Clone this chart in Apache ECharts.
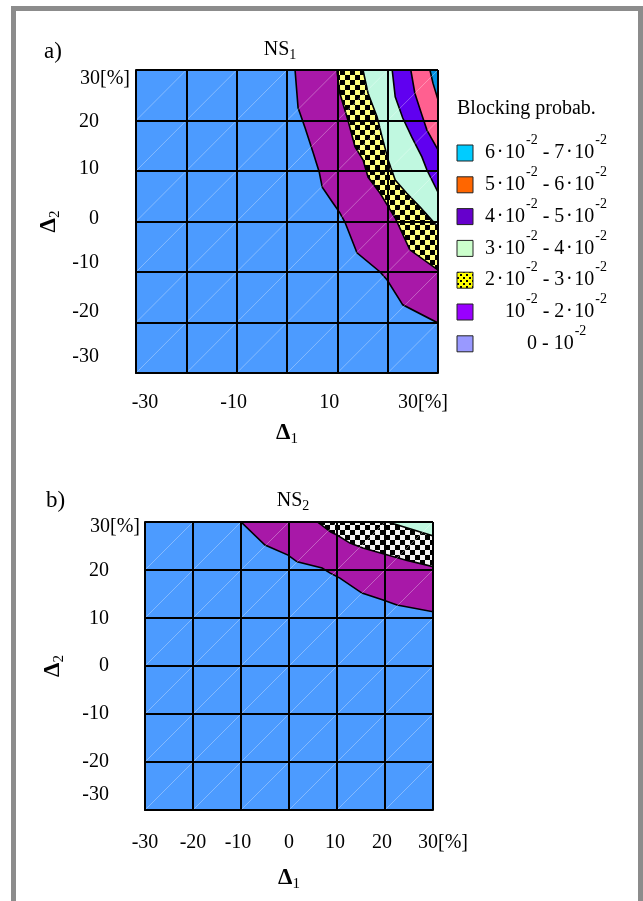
<!DOCTYPE html>
<html><head><meta charset="utf-8">
<script src="https://cdn.jsdelivr.net/npm/echarts@6/dist/echarts.min.js"></script>
<style>html,body{margin:0;padding:0;background:#fff}#c{width:643px;height:901px}</style>
</head><body><div id="c"></div>
<script>
// ---------------- data ----------------
const axisTicks = [-30, -20, -10, 0, 10, 20, 30];
const xTickValsA = [-30, -10, 10, 30];
const xTickLabelsA = ['-30', '-10', '10', '30[%]'];
const yTickLabelsA = ['-30', '-20', '-10', '0', '10', '20', '30[%]'];
const xTickLabelsB = ['-30', '-20', '-10', '0', '10', '20', '30[%]'];
const yTickLabelsB = ['-30', '-20', '-10', '0', '10', '20', '30[%]'];

// NS1 contour edges (Δ1, Δ2) — each edge bounds the region toward the upper-right corner
const ns1Edge1 = [[1.6,30],[2.2,22.5],[3.6,18.5],[5.2,13.6],[6.4,9.8],[7.0,6.8],[9.1,3.7],[10.5,1.7],[11.5,-0.1],[13.9,-6.2],[18.5,-10],[19.9,-11.6],[23.0,-16.5],[30,-20.1]];
const ns1Edge2 = [[9.9,30],[10.5,25.4],[12.1,20.1],[13.5,14.8],[15.1,12.2],[16.1,8.8],[18.5,5.6],[20.5,2.3],[21.5,0.7],[24.4,-5.6],[30,-9.6]];
const ns1Edge3 = [[15.1,30],[16.1,25.4],[17.9,20.7],[18.9,16.7],[20.1,12.2],[21.5,8.2],[23.8,5.6],[26.4,2.9],[30,-1.1]];
const ns1Edge4 = [[20.9,30],[21.5,24.7],[23.0,20.5],[24.8,16.7],[26.8,12.8],[27.8,10.2],[30,5.8]];
const ns1Edge5 = [[24.6,30],[25.4,25.4],[26.8,21.1],[27.8,18.1],[30,14.2]];
const ns1Edge6 = [[28.4,30],[29.0,27.4],[30,24.1]];

// NS2 contour edges
const ns2Edge1 = [[-10,30],[-5.0,25.2],[-0.2,23.1],[1.7,21.7],[6.9,20.4],[8.5,19.4],[10.6,18.3],[15.2,15.2],[19.6,13.75],[22.5,12.7],[30,11.3]];
const ns2Edge2 = [[6.0,30],[8.7,27.9],[10.0,27.3],[12.7,25.6],[15.4,24.6],[20.0,23.3],[24.6,22.0],[30,20.7]];
const ns2Edge3 = [[20.6,30],[30,27.1]];

const legendTitle = 'Blocking probab.';
const legendLabels = [
  '6\u200a·\u200a10{s|-2} - 7\u200a·\u200a10{s|-2}',
  '5\u200a·\u200a10{s|-2} - 6\u200a·\u200a10{s|-2}',
  '4\u200a·\u200a10{s|-2} - 5\u200a·\u200a10{s|-2}',
  '3\u200a·\u200a10{s|-2} - 4\u200a·\u200a10{s|-2}',
  '2\u200a·\u200a10{s|-2} - 3\u200a·\u200a10{s|-2}',
  '10{s|-2} - 2\u200a·\u200a10{s|-2}',
  '0 - 10{s|-2}'
];

// ---------------- styling ----------------
const FONT = "'Liberation Serif','Times New Roman',serif";
const legendColors = ['#00ccff', '#ff6600', '#6600cc', '#ccffcc', 'CHECK', '#9900ff', '#9999ff'];
const legendIndent = [0, 0, 0, 0, 0, 20, 42];

function checker(size, c1, c2) {
  const cv = document.createElement('canvas');
  cv.width = size * 2; cv.height = size * 2;
  const g = cv.getContext('2d');
  g.fillStyle = c1; g.fillRect(0, 0, size * 2, size * 2);
  g.fillStyle = c2; g.fillRect(0, 0, size, size); g.fillRect(size, size, size, size);
  return { image: cv, repeat: 'repeat' };
}
function dots() {
  const cv = document.createElement('canvas');
  cv.width = 6; cv.height = 6;
  const g = cv.getContext('2d');
  g.fillStyle = '#ffff00'; g.fillRect(0, 0, 6, 6);
  g.fillStyle = '#000'; g.fillRect(1, 1, 2, 2); g.fillRect(4, 4, 2, 2);
  return { image: cv, repeat: 'repeat' };
}
const checkYellow = checker(5, '#ffff80', '#000000');
const checkWhite = checker(5, '#f4f4f4', '#000000');

function bandSeries(edge, fill, idx, z) {
  return {
    type: 'custom', xAxisIndex: idx, yAxisIndex: idx, z: z, silent: true, clip: true,
    data: [[0, 0]],
    renderItem: function (params, api) {
      const pts = edge.concat([[30, 30]]).map(p => api.coord(p));
      return { type: 'polygon', shape: { points: pts }, style: { fill: fill, stroke: '#000', lineWidth: 1.6 } };
    }
  };
}
function diagSeries(idx) {
  const cells = [];
  for (let i = 0; i < axisTicks.length - 1; i++)
    for (let j = 0; j < axisTicks.length - 1; j++) cells.push([i, j]);
  return {
    type: 'custom', xAxisIndex: idx, yAxisIndex: idx, z: 9, silent: true,
    data: cells,
    renderItem: function (params, api) {
      const i = api.value(0), j = api.value(1);
      const p0 = api.coord([axisTicks[i], axisTicks[j]]);
      const p1 = api.coord([axisTicks[i + 1], axisTicks[j + 1]]);
      return { type: 'line', shape: { x1: p0[0], y1: p0[1], x2: p1[0], y2: p1[1] },
        style: { stroke: 'rgba(255,255,255,0.4)', lineWidth: 0.8 } };
    }
  };
}
function tok(extra) {
  return Object.assign({ fontFamily: FONT, fontSize: 20, color: '#000' }, extra);
}
function xRich(shifts) {
  const r = {};
  shifts.forEach((dx, i) => {
    r['l' + i] = tok({ padding: [0, dx < 0 ? -2 * dx : 0, 0, dx > 0 ? 2 * dx : 0] });
  });
  return r;
}
function yRich(shifts, padRight) {
  const r = {};
  shifts.forEach((dy, i) => {
    r['l' + i] = tok({ padding: [dy > 0 ? 2 * dy : 0, padRight[i], dy < 0 ? -2 * dy : 0, 0] });
  });
  return r;
}
const lineBlack = { color: '#000', width: 2 };

function baseAxis(idx) {
  return {
    gridIndex: idx, type: 'value', min: -30, max: 30, interval: 10, z: 10,
    axisLine: { show: true, onZero: false, lineStyle: lineBlack },
    axisTick: { show: false },
    splitLine: { show: true, lineStyle: lineBlack },
    axisLabel: { showMinLabel: true, showMaxLabel: true, hideOverlap: false }
  };
}
function deltaName(sub, gap, rotate) {
  return {
    name: '{d|Δ}{s|' + sub + '}', nameLocation: 'middle', nameGap: gap, nameRotate: rotate,
    nameTextStyle: { rich: {
      d: { fontFamily: FONT, fontWeight: 'bold', fontSize: 23, color: '#000' },
      s: { fontFamily: FONT, fontSize: 15, color: '#000', padding: [12, 0, 0, 0] }
    } }
  };
}

const xAxisA = Object.assign(baseAxis(0), deltaName('1', 47, 0));
xAxisA.axisLabel = Object.assign(xAxisA.axisLabel, {
  margin: 20, rich: xRich([9, -3, -8, -15]),
  formatter: v => { const i = xTickValsA.indexOf(Math.round(v)); return i < 0 ? '' : '{l' + i + '|' + xTickLabelsA[i] + '}'; }
});
const yAxisA = Object.assign(baseAxis(0), deltaName('2', 73, 90));
yAxisA.axisLabel = Object.assign(yAxisA.axisLabel, {
  margin: 6, rich: yRich([-16, -11, -9, -3, -2, 1, 9], [31, 31, 31, 31, 31, 31, 0]),
  formatter: v => { const i = axisTicks.indexOf(Math.round(v)); return i < 0 ? '' : '{l' + i + '|' + yTickLabelsA[i] + '}'; }
});
const xAxisB = Object.assign(baseAxis(1), deltaName('1', 55, 0));
xAxisB.axisLabel = Object.assign(xAxisB.axisLabel, {
  margin: 23, rich: xRich([0, 0, -3, 0, -2, -3, 10]),
  formatter: v => { const i = axisTicks.indexOf(Math.round(v)); return i < 0 ? '' : '{l' + i + '|' + xTickLabelsB[i] + '}'; }
});
const yAxisB = Object.assign(baseAxis(1), deltaName('2', 78, 90));
yAxisB.axisLabel = Object.assign(yAxisB.axisLabel, {
  margin: 5, rich: yRich([-15, 0, 0, 0, 1, 1, 5], [31, 31, 31, 31, 31, 31, 0]),
  formatter: v => { const i = axisTicks.indexOf(Math.round(v)); return i < 0 ? '' : '{l' + i + '|' + yTickLabelsB[i] + '}'; }
});

const graphics = [
  { type: 'rect', shape: { x: 11, y: 6, width: 5, height: 895 }, style: { fill: '#8c8c8c' } },
  { type: 'rect', shape: { x: 11, y: 6, width: 632, height: 5 }, style: { fill: '#8c8c8c' } },
  { type: 'rect', shape: { x: 638, y: 6, width: 5, height: 895 }, style: { fill: '#8c8c8c' } },
  { type: 'text', style: { text: 'a)', x: 44, y: 52, font: '23px ' + FONT, fill: '#000', align: 'left', textAlign: 'left', verticalAlign: 'middle', textVerticalAlign: 'middle' } },
  { type: 'text', style: { text: 'b)', x: 46, y: 501, font: '23px ' + FONT, fill: '#000', align: 'left', textAlign: 'left', verticalAlign: 'middle', textVerticalAlign: 'middle' } },
  { type: 'text', style: { text: '{n|NS}{s|1}', x: 280, y: 50, align: 'center', textAlign: 'center', verticalAlign: 'middle', textVerticalAlign: 'middle',
      rich: { n: tok({}), s: tok({ fontSize: 14, padding: [10, 0, 0, 0] }) } } },
  { type: 'text', style: { text: '{n|NS}{s|2}', x: 293, y: 501, align: 'center', textAlign: 'center', verticalAlign: 'middle', textVerticalAlign: 'middle',
      rich: { n: tok({}), s: tok({ fontSize: 14, padding: [10, 0, 0, 0] }) } } },
  { type: 'text', style: { text: legendTitle, x: 457, y: 109, font: '20px ' + FONT, fill: '#000', align: 'left', textAlign: 'left', verticalAlign: 'middle', textVerticalAlign: 'middle' } }
];
const legendY0 = 153, legendStep = 31.8;
legendLabels.forEach((lab, i) => {
  const cy = legendY0 + i * legendStep;
  graphics.push({ type: 'rect', shape: { x: 457, y: cy - 8, width: 16, height: 16 },
    style: { fill: legendColors[i] === 'CHECK' ? dots() : legendColors[i], stroke: '#222', lineWidth: 1 } });
  graphics.push({ type: 'text', style: { text: lab, x: 485 + legendIndent[i], y: cy, align: 'left', textAlign: 'left', verticalAlign: 'middle', textVerticalAlign: 'middle',
    font: '20px ' + FONT, fill: '#000',
    rich: { s: tok({ fontSize: 14, padding: [0, 0, 25, 1] }) } } });
});

const chart = echarts.init(document.getElementById('c'), null, { renderer: 'canvas' });
chart.setOption({
  animation: false,
  backgroundColor: '#ffffff',
  grid: [
    { left: 136, top: 70, width: 302, height: 303, show: true, backgroundColor: '#4c9bff', borderWidth: 0, containLabel: false, outerBoundsMode: 'none' },
    { left: 145, top: 522, width: 288, height: 288, show: true, backgroundColor: '#4c9bff', borderWidth: 0, containLabel: false, outerBoundsMode: 'none' }
  ],
  xAxis: [xAxisA, xAxisB],
  yAxis: [yAxisA, yAxisB],
  series: [
    bandSeries(ns1Edge1, '#a818a8', 0, 2),
    bandSeries(ns1Edge2, checkYellow, 0, 3),
    bandSeries(ns1Edge3, '#c0f8e0', 0, 4),
    bandSeries(ns1Edge4, '#6000f0', 0, 5),
    bandSeries(ns1Edge5, '#ff6090', 0, 6),
    bandSeries(ns1Edge6, '#0090e0', 0, 7),
    diagSeries(0),
    bandSeries(ns2Edge1, '#a818a8', 1, 2),
    bandSeries(ns2Edge2, checkWhite, 1, 3),
    bandSeries(ns2Edge3, '#c0f8e0', 1, 4),
    diagSeries(1)
  ],
  graphic: graphics
});
</script>
</body></html>
